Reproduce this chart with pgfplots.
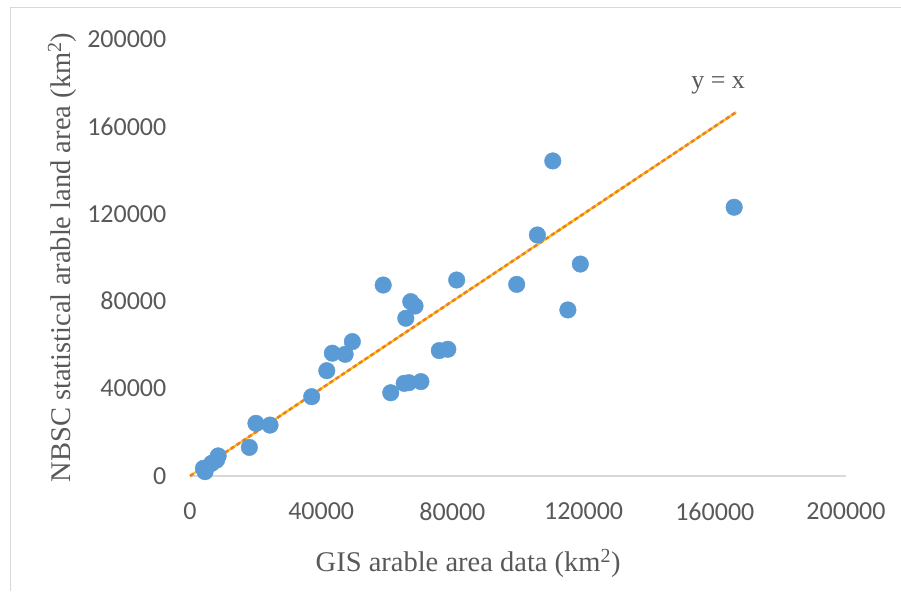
\documentclass[border=0pt]{standalone}
\usepackage{fontspec}
\setmainfont{Liberation Serif}
\newfontfamily\calibri{Carlito}
\usepackage{pgfplots}
\pgfplotsset{compat=1.18}
\definecolor{tickc}{HTML}{595959}
\definecolor{gridc}{HTML}{D9D9D9}
\definecolor{ptc}{HTML}{5B9BD5}
\definecolor{orc}{HTML}{ED7D31}
\definecolor{yec}{HTML}{FFC000}
\pgfplotstableread{
x y
4100 3500
4600 2000
6600 5800
8100 7300
8600 9200
18100 13100
20100 24100
24400 23300
37100 36300
41700 48200
43400 56200
47300 55700
49500 61500
58900 87400
61200 38100
65300 42400
66700 42700
65800 72200
67300 79800
68600 77800
70400 43200
76000 57400
78600 58000
81300 89700
99600 87700
105900 110300
110600 144200
115200 76000
119000 97000
165900 123000
}\pts
\pgfplotstableread{
x y
0 0
166500 166500
}\idline
\begin{document}
\begin{tikzpicture}
\useasboundingbox (0pt,0pt) rectangle (901pt,591pt);
\draw[gridc, line width=1pt] (10.5pt,0pt) -- (10.5pt,583pt) -- (901pt,583pt);
\begin{axis}[
  at={(190pt,115pt)}, anchor=south west,
  width=656pt, height=437pt, scale only axis,
  xmin=0, xmax=200000, ymin=0, ymax=200000,
  axis x line=bottom, axis y line=left,
  x axis line style={draw=gridc, line width=1.3pt, -},
  y axis line style={draw=none},
  tick style={draw=none},
  xtick={0,40000,80000,120000,160000,200000},
  ytick={0,40000,80000,120000,160000,200000},
  scaled ticks=false,
  /pgf/number format/.cd, fixed, 1000 sep={}, assume math mode=true,
  /pgfplots/.cd,
  tick label style={font=\calibri\fontsize{26}{30}\selectfont, text=tickc},
  xticklabel style={yshift=-21pt},
  yticklabel style={xshift=-18pt},
  xlabel={GIS arable area data (km\textsuperscript{2})},
  ylabel={NBSC statistical arable land area (km\textsuperscript{2})},
  label style={font=\fontsize{28.5}{32}\selectfont, text=tickc},
  x label style={at={(axis description cs:0.424,-0.199)}, anchor=center},
  y label style={at={(axis description cs:-0.195,0.5)}, anchor=center},
  clip=false,
]
\addplot[only marks, mark=*, mark size=8.3pt, mark options={fill=ptc, draw=ptc}] table {\pts};
\addplot[yec, line width=2.2pt] table {\idline};
\addplot[orc, line width=2.6pt, dash pattern=on 4pt off 3pt] table {\idline};
\node[font=\fontsize{26}{30}\selectfont, text=tickc] at (axis cs:161000,179000) {y = x};
\end{axis}
\end{tikzpicture}
\end{document}
